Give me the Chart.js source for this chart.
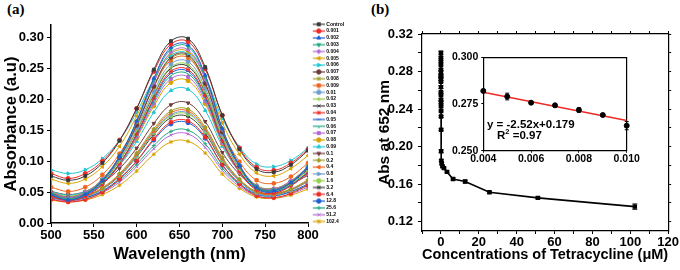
<!DOCTYPE html>
<html><head><meta charset="utf-8">
<script src="https://cdn.jsdelivr.net/npm/chart.js@4.4.1/dist/chart.umd.min.js"></script>
<style>
html,body{margin:0;padding:0;background:#fff;}
body{width:680px;height:270px;overflow:hidden;position:relative;font-family:"Liberation Sans",Arial,sans-serif;}
canvas{position:absolute;}
#ca{left:0;top:0;}
#cb{left:370px;top:0;}
#ci{left:440px;top:45px;}
.lbl{position:absolute;font:bold 15px "Liberation Serif","Times New Roman",serif;line-height:17px;color:#000;}
.eq{position:absolute;font:bold 11.5px "Liberation Sans",Arial,sans-serif;line-height:14px;white-space:nowrap;color:#000;}
.eq sup{font-size:7.5px;line-height:0;vertical-align:5px;}
</style></head>
<body>
<div class="lbl" style="left:7px;top:1px">(a)</div>
<div class="lbl" style="left:371px;top:1px">(b)</div>
<canvas id="ca" width="370" height="270"></canvas>
<canvas id="cb" width="310" height="270"></canvas>
<canvas id="ci" width="200" height="125"></canvas>
<div class="eq" style="left:487px;top:117px">y = -2.52x+0.179</div>
<div class="eq" style="left:497px;top:128px">R<sup>2</sup> =0.97</div>
<script>
// ---------- Panel (a) data ----------
const wavelengths = [500,520,540,560,580,600,620,640,660,680,700,720,740,760,780,800];
const seriesLabels = ['Control','0.001','0.002','0.003','0.004','0.005','0.006','0.007','0.008','0.009',
  '0.01','0.02','0.03','0.04','0.05','0.06','0.07','0.08','0.09','0.1','0.2','0.4','0.8','1.6','3.2',
  '6.4','12.8','25.6','51.2','102.4'];
const absControl = [.076,.069,.076,.097,.133,.185,.248,.294,.298,.252,.174,.119,.087,.082,.094,.117];
const abs0_001 = [.080,.072,.080,.100,.134,.185,.245,.289,.293,.249,.174,.121,.090,.085,.097,.119];
const abs0_002 = [.046,.037,.046,.068,.108,.165,.234,.284,.288,.239,.153,.093,.057,.052,.065,.090];
const abs0_003 = [.047,.039,.047,.070,.108,.164,.231,.281,.285,.236,.152,.093,.059,.053,.066,.091];
const abs0_004 = [.049,.041,.049,.071,.108,.163,.227,.276,.280,.232,.151,.094,.060,.055,.068,.091];
const abs0_005 = [.071,.064,.071,.091,.124,.173,.230,.274,.277,.235,.162,.111,.081,.076,.088,.109];
const abs0_006 = [.086,.080,.086,.104,.134,.179,.232,.271,.274,.236,.169,.123,.095,.091,.101,.121];
const abs0_007 = [.048,.041,.048,.069,.106,.158,.221,.268,.272,.226,.147,.092,.059,.054,.066,.089];
const abs0_008 = [.050,.043,.050,.071,.106,.158,.220,.266,.270,.225,.147,.093,.061,.056,.068,.090];
const abs0_009 = [.058,.051,.058,.078,.112,.161,.220,.263,.267,.224,.150,.099,.069,.064,.075,.097];
const abs0_01 = [.050,.042,.050,.069,.104,.154,.213,.257,.261,.218,.143,.091,.060,.055,.067,.088];
const abs0_02 = [.047,.039,.047,.066,.100,.150,.209,.252,.256,.213,.139,.087,.057,.052,.063,.085];
const abs0_03 = [.048,.041,.048,.067,.101,.149,.207,.250,.253,.211,.138,.088,.058,.053,.065,.086];
const abs0_04 = [.043,.036,.043,.062,.096,.144,.202,.245,.248,.206,.133,.083,.053,.048,.060,.081];
const abs0_05 = [.045,.038,.045,.064,.096,.143,.200,.242,.245,.204,.133,.084,.055,.050,.061,.082];
const abs0_06 = [.047,.040,.047,.065,.096,.142,.197,.238,.241,.201,.132,.084,.056,.051,.062,.082];
const abs0_07 = [.045,.039,.045,.063,.094,.139,.193,.233,.236,.197,.129,.082,.055,.050,.061,.080];
const abs0_08 = [.047,.041,.047,.064,.094,.137,.189,.227,.230,.193,.128,.082,.056,.051,.062,.080];
const abs0_09 = [.051,.045,.051,.066,.093,.132,.179,.214,.216,.182,.124,.083,.059,.055,.064,.081];
const abs0_1 = [.051,.046,.051,.065,.088,.121,.161,.191,.194,.164,.114,.079,.058,.055,.063,.077];
const abs0_2 = [.044,.039,.044,.057,.080,.113,.152,.181,.184,.155,.106,.071,.051,.048,.055,.070];
const abs0_4 = [.043,.038,.043,.056,.078,.111,.149,.178,.181,.152,.104,.070,.050,.046,.054,.068];
const abs0_8 = [.042,.037,.042,.055,.077,.109,.147,.175,.178,.150,.102,.068,.048,.045,.053,.067];
const abs1_6 = [.043,.038,.043,.055,.077,.108,.146,.173,.176,.148,.101,.068,.049,.046,.053,.067];
const abs3_2 = [.043,.039,.043,.055,.076,.107,.143,.170,.172,.145,.100,.068,.050,.047,.054,.067];
const abs6_4 = [.038,.034,.038,.050,.071,.100,.136,.163,.165,.139,.094,.063,.044,.041,.048,.061];
const abs12_8 = [.041,.037,.041,.052,.072,.100,.134,.160,.162,.137,.094,.064,.047,.044,.051,.063];
const abs25_6 = [.041,.037,.041,.051,.069,.095,.125,.148,.150,.128,.089,.062,.046,.044,.050,.061];
const abs51_2 = [.039,.035,.039,.049,.066,.091,.120,.142,.144,.122,.085,.059,.044,.041,.047,.058];
const abs102_4 = [.037,.034,.037,.046,.061,.084,.111,.131,.132,.113,.079,.056,.042,.040,.045,.055];
const spectra = [absControl,abs0_001,abs0_002,abs0_003,abs0_004,abs0_005,abs0_006,abs0_007,abs0_008,abs0_009,
  abs0_01,abs0_02,abs0_03,abs0_04,abs0_05,abs0_06,abs0_07,abs0_08,abs0_09,abs0_1,abs0_2,abs0_4,abs0_8,abs1_6,abs3_2,
  abs6_4,abs12_8,abs25_6,abs51_2,abs102_4];
const xTicksA = [500,550,600,650,700,750,800];
const yTicksA = [0,0.05,0.10,0.15,0.20,0.25,0.30];

// ---------- Panel (b) data ----------
const concB = [0,0.001,0.002,0.003,0.004,0.005,0.006,0.007,0.008,0.009,0.01,0.02,0.03,0.04,0.05,0.06,0.07,0.08,0.09,
  0.1,0.2,0.4,0.8,1.6,3.2,6.4,12.8,25.6,51.2,102.4];
const absB = [.300,.295,.291,.287,.282,.279,.2757,.2743,.2718,.2691,.2634,.258,.255,.250,.247,.243,.238,.232,.218,
  .195,.185,.182,.179,.177,.173,.1655,.1627,.1513,.1453,.136];
const errB = [.0015,.001,.001,.001,.001,.0015,.001,.001,.0012,.001,.0015,.001,.001,.001,.001,.001,.001,.001,.001,
  .0015,.001,.001,.001,.001,.001,.0012,.0015,.001,.001,.0028];
const xTicksB = [-10,0,10,20,30,40,50,60,70,80,90,100,110,120];
const yTicksB = [0.12,0.14,0.16,0.18,0.20,0.22,0.24,0.26,0.28,0.30,0.32];
// inset
const insetX = [0.004,0.005,0.006,0.007,0.008,0.009,0.010];
const insetY = [.282,.279,.2757,.2743,.2718,.2691,.2634];
const insetErr = [.0008,.0018,.0008,.0008,.0012,.0008,.0022];
const fitX = [0.004,0.010];
const fitY = [0.2813,0.2662];
const xTicksInset = [0.004,0.006,0.008,0.010];
const yTicksInset = [0.250,0.275,0.300];

// ---------- styles ----------
const palette = ['#3a3a3a','#ef2b25','#1c5fd2','#1fa882','#b46bd6','#d8a300','#20c6d3','#6e3a3a','#9f9c27','#f0641e','#6c9ecf','#94cf4e'];
const markerStyles = ['rect','circle','triangle','triangle','rectRot','triangle','triangle','circle','star','rectRounded','circle','cross','crossRot','star','line','dash'];
const markerRot = [0,0,0,180,0,-90,90,0,0,0,0,0,0,0,0,90];

Chart.defaults.font.family = '"Liberation Sans", Arial, sans-serif';
Chart.defaults.color = '#000';

function makeIcon(color, style, rot) {
  const c = document.createElement('canvas');
  c.width = 16; c.height = 6;
  const g = c.getContext('2d');
  g.strokeStyle = color; g.fillStyle = color; g.lineWidth = 1.2;
  g.beginPath(); g.moveTo(4, 3); g.lineTo(16, 3); g.stroke();
  g.lineWidth = 1;
  if (Chart.helpers && Chart.helpers.drawPoint) {
    Chart.helpers.drawPoint(g, {pointStyle: style, rotation: rot, radius: 2.2, borderWidth: 1}, 10, 3);
  } else {
    g.beginPath(); g.arc(10, 3, 2, 0, Math.PI * 2); g.fill();
  }
  return c;
}

const legendIcons = [];
const dsA = spectra.map((arr, i) => {
  const col = palette[i % 12];
  const st = markerStyles[i % 16], rot = markerRot[i % 16];
  legendIcons.push(makeIcon(col, st, rot));
  return {
    label: seriesLabels[i],
    data: wavelengths.map((w, j) => ({x: w, y: arr[j]})),
    borderColor: col, backgroundColor: col,
    pointBackgroundColor: col, pointBorderColor: col,
    pointStyle: st, rotation: rot, pointRadius: 2, pointBorderWidth: 1,
    borderWidth: 1, tension: 0.4
  };
});

const axisGrid = {drawOnChartArea: false, drawTicks: true, tickLength: 4, color: '#000', lineWidth: 1};

new Chart(document.getElementById('ca'), {
  type: 'line',
  data: {datasets: dsA},
  options: {
    responsive: false, animation: false, devicePixelRatio: 1,
    layout: {padding: {left: 0, right: 22, top: 20, bottom: 0}},
    plugins: {
      tooltip: {enabled: false},
      legend: {
        position: 'right', align: 'start', maxWidth: 40,
        labels: {
          font: {size: 5, weight: 'bold'}, color: '#000',
          usePointStyle: true, pointStyleWidth: 14, boxWidth: 14, boxHeight: 5, padding: 1.8,
          generateLabels: (chart) => chart.data.datasets.map((ds, i) => ({
            text: ds.label, pointStyle: legendIcons[i], fillStyle: ds.borderColor,
            strokeStyle: ds.borderColor, lineWidth: 0, hidden: false, datasetIndex: i, fontColor: '#000'
          }))
        }
      }
    },
    scales: {
      x: {
        type: 'linear', position: 'bottom', min: 500, max: 800,
        afterBuildTicks: s => { s.ticks = xTicksA.map(v => ({value: v})); },
        ticks: {font: {size: 13, weight: 'bold'}, color: '#000', padding: 1, maxRotation: 0, autoSkip: false,
                callback: v => String(v)},
        grid: axisGrid,
        border: {display: true, color: '#000', width: 1.5},
        title: {display: true, text: 'Wavelength (nm)', font: {size: 16.5, weight: 'bold'}, color: '#000', padding: {top: 0, bottom: 6}},
        afterFit: s => { s.height = 47; }
      },
      xTop: {
        type: 'linear', position: 'top', min: 500, max: 800, display: true,
        ticks: {display: false}, grid: {display: false}, border: {display: false},
        afterFit: s => { s.height = 5; }
      },
      y: {
        type: 'linear', min: 0, max: 0.32,
        afterBuildTicks: s => { s.ticks = yTicksA.map(v => ({value: v})); },
        ticks: {font: {size: 13, weight: 'bold'}, color: '#000', padding: 3, callback: v => Number(v).toFixed(2)},
        grid: axisGrid,
        border: {display: true, color: '#000', width: 1.5},
        title: {display: true, text: 'Absorbance (a.u)', font: {size: 16.5, weight: 'bold'}, color: '#000', padding: {top: 2, bottom: 0}},
        afterFit: s => { s.width = 51; }
      }
    }
  }
});

// ---------- error bar plugin ----------
const errorBars = {
  id: 'errorBars',
  afterDatasetsDraw(chart) {
    const ctx = chart.ctx;
    chart.data.datasets.forEach((ds) => {
      if (!ds.errors) return;
      const xs = chart.scales[ds.xAxisID || 'x'], ys = chart.scales[ds.yAxisID || 'y'];
      ctx.save();
      ctx.strokeStyle = '#000'; ctx.lineWidth = 1;
      ds.data.forEach((p, i) => {
        const e = ds.errors[i];
        const px = xs.getPixelForValue(p.x);
        const y1 = ys.getPixelForValue(p.y - e), y2 = ys.getPixelForValue(p.y + e);
        const cw = ds.capWidth || 2.5;
        ctx.beginPath();
        ctx.moveTo(px, y1); ctx.lineTo(px, y2);
        ctx.moveTo(px - cw, y1); ctx.lineTo(px + cw, y1);
        ctx.moveTo(px - cw, y2); ctx.lineTo(px + cw, y2);
        ctx.stroke();
      });
      ctx.restore();
    });
  }
};

const boxGrid = {drawOnChartArea: false, drawTicks: true, tickLength: 3, color: '#000', lineWidth: 1};

new Chart(document.getElementById('cb'), {
  type: 'line',
  data: {datasets: [{
    data: concB.map((c, i) => ({x: c, y: absB[i]})),
    errors: errB,
    borderColor: '#000', backgroundColor: '#000', borderWidth: 1.6,
    pointStyle: 'rect', pointRadius: 2, pointBackgroundColor: '#000', pointBorderColor: '#000',
    tension: 0, clip: false
  }]},
  plugins: [errorBars],
  options: {
    responsive: false, animation: false, devicePixelRatio: 1,
    layout: {padding: {left: 0, right: 8.5, top: 31, bottom: 0}},
    plugins: {legend: {display: false}, tooltip: {enabled: false}},
    scales: {
      x: {
        type: 'linear', position: 'bottom', min: -10, max: 120,
        afterBuildTicks: s => { s.ticks = xTicksB.map(v => ({value: v})); },
        ticks: {font: {size: 13, weight: 'bold'}, color: '#000', padding: 1, maxRotation: 0, autoSkip: false,
                callback: v => (v >= 0 && v % 20 === 0) ? String(v) : ''},
        grid: boxGrid,
        border: {display: true, color: '#000', width: 1.2},
        title: {display: true, text: 'Concentrations of Tetracycline (\u03bcM)', font: {size: 14.5, weight: 'bold'}, color: '#000', padding: {top: 0, bottom: 6}},
        afterFit: s => { s.height = 39; }
      },
      x2: {
        type: 'linear', position: 'top', min: -10, max: 120,
        afterBuildTicks: s => { s.ticks = xTicksB.map(v => ({value: v})); },
        ticks: {display: false}, grid: boxGrid,
        border: {display: true, color: '#000', width: 1.2},
        afterFit: s => { s.height = 3; }
      },
      y: {
        type: 'linear', position: 'left', min: 0.11, max: 0.32,
        afterBuildTicks: s => { s.ticks = yTicksB.map(v => ({value: v})); },
        ticks: {font: {size: 13, weight: 'bold'}, color: '#000', padding: 5, autoSkip: false,
                callback: v => (Math.round(v * 100) % 4 === 0) ? Number(v).toFixed(2) : ''},
        grid: {drawOnChartArea: false, drawTicks: true, tickLength: 4, color: '#000', lineWidth: 1},
        border: {display: true, color: '#000', width: 1.2},
        title: {display: true, text: 'Abs at 652 nm', font: {size: 15.5, weight: 'bold'}, color: '#000', padding: {top: 5, bottom: 0}},
        afterFit: s => { s.width = 52; }
      },
      y2: {
        type: 'linear', position: 'right', min: 0.11, max: 0.32,
        afterBuildTicks: s => { s.ticks = yTicksB.map(v => ({value: v})); },
        ticks: {display: false}, grid: boxGrid,
        border: {display: true, color: '#000', width: 1.2},
        afterFit: s => { s.width = 3; }
      }
    }
  }
});

new Chart(document.getElementById('ci'), {
  type: 'line',
  data: {datasets: [
    {
      data: insetX.map((x, i) => ({x: x, y: insetY[i]})),
      errors: insetErr, capWidth: 2,
      showLine: false, borderColor: '#000', backgroundColor: '#000',
      pointStyle: 'circle', pointRadius: 2.5, pointBackgroundColor: '#000', pointBorderColor: '#000', clip: false
    },
    {
      data: fitX.map((x, i) => ({x: x, y: fitY[i]})),
      borderColor: '#ee2a24', borderWidth: 1.5, pointRadius: 0, tension: 0
    }
  ]},
  plugins: [errorBars],
  options: {
    responsive: false, animation: false, devicePixelRatio: 1,
    layout: {padding: {left: 0, right: 13.3, top: 12.3, bottom: 0}},
    plugins: {legend: {display: false}, tooltip: {enabled: false}},
    scales: {
      x: {
        type: 'linear', position: 'bottom', min: 0.004, max: 0.010,
        afterBuildTicks: s => { s.ticks = xTicksInset.map(v => ({value: v})); },
        ticks: {font: {size: 10.5, weight: 'bold'}, color: '#000', padding: 0, maxRotation: 0, autoSkip: false,
                callback: v => Number(v).toFixed(3)},
        grid: {drawOnChartArea: false, drawTicks: true, tickLength: 2, color: '#000'},
        border: {display: true, color: '#000', width: 1.2},
        afterFit: s => { s.height = 19.3; }
      },
      x2: {
        type: 'linear', position: 'top', min: 0.004, max: 0.010,
        ticks: {display: false}, grid: {display: false},
        border: {display: true, color: '#000', width: 1.2},
        afterFit: s => { s.height = 0; }
      },
      y: {
        type: 'linear', position: 'left', min: 0.25, max: 0.30,
        afterBuildTicks: s => { s.ticks = yTicksInset.map(v => ({value: v})); },
        ticks: {font: {size: 10.5, weight: 'bold'}, color: '#000', padding: 3, callback: v => Number(v).toFixed(3)},
        grid: {drawOnChartArea: false, drawTicks: true, tickLength: 2, color: '#000'},
        border: {display: true, color: '#000', width: 1.2},
        afterFit: s => { s.width = 43.3; }
      },
      y2: {
        type: 'linear', position: 'right', min: 0.25, max: 0.30,
        ticks: {display: false}, grid: {display: false},
        border: {display: true, color: '#000', width: 1.2},
        afterFit: s => { s.width = 0; }
      }
    }
  }
});
</script>
</body></html>
